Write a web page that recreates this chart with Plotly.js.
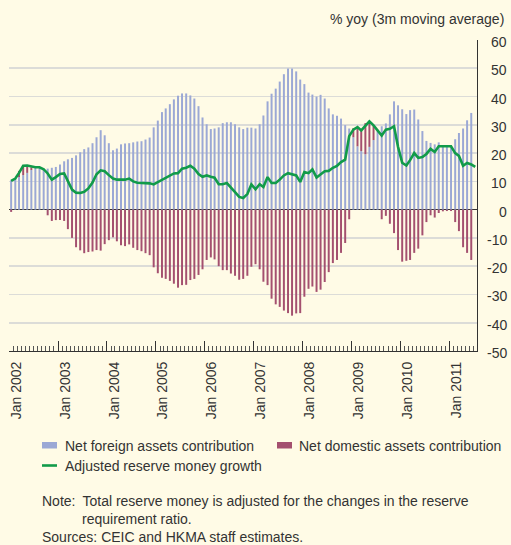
<!DOCTYPE html>
<html><head><meta charset="utf-8">
<script src="https://cdn.plot.ly/plotly-3.0.1.min.js"></script>
<style>html,body{margin:0;padding:0;background:#fffbe6;} #chart{width:511px;height:545px;}</style>
</head><body><div id="chart"></div>
<script>
// ---- data ----
const startYear = 2002;
const netForeign = [10.4, 11, 11.5, 12.2, 13, 14, 15.1, 14.8, 14.5, 14.5,
 14.8, 15.1, 16, 17.1, 17.8, 18.3, 19.2, 20.3, 21.4, 22,
 23.5, 25.6, 28.1, 26.3, 23.5, 21, 21.6, 23.1, 23.4, 23.5,
 23.8, 24.1, 24.2, 24.8, 25.5, 29.1, 31.5, 34.5, 35.8, 37.3,
 39, 40.3, 41.1, 41.1, 40.4, 39.3, 36.6, 32.6, 30.2, 28.5,
 28.7, 29.1, 30.6, 30.9, 30.9, 30.2, 29.1, 28.5, 29, 29,
 28.7, 30.2, 33.3, 38.3, 41, 42.8, 45.3, 47.9, 49.9, 49.9,
 48.9, 46, 44.4, 41.4, 40.7, 40, 40.6, 39.3, 35.8, 33.7,
 33.2, 32.2, 29.9, 28.7, 25.6, 22.4, 20.7, 19.6, 22.2, 24.6,
 28.3, 29.5, 30.5, 33.7, 38.3, 36.9, 35.5, 33.8, 35.2, 35.4,
 31.9, 27.8, 24.3, 23.6, 23.1, 23.8, 22.6, 22.5, 22.6, 24.9,
 27.1, 28.7, 31.6, 34.2];
const netDomestic = [-0.8, 0, 2.2, 3.3, 2.2, 1, 0, 0, 0, -2,
 -4, -3.7, -3.7, -4, -6.9, -10, -13.3, -14.4, -15.4, -15,
 -14.8, -14.3, -14.5, -12.2, -10.8, -9.8, -11.2, -12.6, -12.9, -12.3,
 -13.5, -14.3, -14.7, -15.4, -16.1, -20.4, -22.5, -24.1, -24.5, -25.2,
 -26.2, -27.6, -26.7, -26.6, -24.9, -24.5, -23.1, -21.1, -17.8, -16.9,
 -17.6, -20, -21.4, -21.4, -22.6, -23.4, -24.8, -24.5, -23.4, -20.2,
 -19.3, -21.1, -25.5, -26.7, -31.5, -33.5, -34.4, -35.7, -36.6, -37.5,
 -36.7, -36.6, -30.8, -28, -27.2, -29.1, -28.3, -25.6, -22.1, -18.9,
 -17.8, -15.3, -11.8, -3.4, 3.2, 6.5, 7.5, 11, 8.8, 5,
 0, -3.4, -2.2, -5, -8.3, -14.3, -18.4, -18.1, -17.8, -15.3,
 -13.8, -9.1, -4.4, -2, -2.8, -1.2, -0.6, -0.5, -0.5, -4.4,
 -7.6, -13.3, -15.3, -17.8];
const reserveGrowth = [10.2, 11, 13, 15.5, 15.6, 15.2, 15, 15, 14.3, 12.8,
 10.6, 11.5, 12.6, 12.8, 10.3, 7.1, 6, 5.9, 6.3, 7.5,
 9.6, 12.5, 13.9, 13.6, 12.2, 11, 10.6, 10.6, 10.6, 11,
 10, 9.5, 9.4, 9.4, 9.3, 8.9, 9.7, 10.5, 11.4, 12.3,
 12.8, 12.9, 14.5, 14.8, 15.5, 14.5, 12.6, 11.6, 12.1, 11.6,
 11.3, 9, 9, 9.4, 8, 6.2, 4.5, 4.1, 5.5, 8.9,
 7.2, 9, 8, 11.5, 9.4, 9.4, 10.6, 12.1, 12.9, 12.5,
 12.1, 9.8, 13.3, 12.9, 14.2, 11.4, 12.5, 13.6, 13.7, 14.8,
 15.5, 16.8, 17.7, 26, 28.3, 29.2, 28, 29.7, 31.2, 29.8,
 28, 26.2, 28.3, 28.6, 29.5, 22.2, 16.6, 15.6, 17.5, 20,
 18.3, 18.6, 19.7, 21.5, 20.4, 22.4, 22.4, 22.4, 22.4, 20,
 19, 15.5, 16.5, 16, 15.1];
const yTickVals = [60, 50, 40, 30, 20, 10, 0, -10, -20, -30, -40, -50];
const yTickText = ['60', '50', '40', '30', '20', '10', '0', '-10', '-20', '-30', '-40', '-50'];
const seriesNames = ['Net foreign assets contribution', 'Net domestic assets contribution', 'Adjusted reserve money growth'];
const unitTitle = '% yoy (3m moving average)';
const noteLine1 = 'Note:\u2002Total reserve money is adjusted for the changes in the reserve';
const noteLine2 = 'requirement ratio.';
const sourceLine = 'Sources: CEIC and HKMA staff estimates.';

// month dates (mid-month)
function monthDate(i) {
  const y = startYear + Math.floor(i / 12);
  const m = (i % 12) + 1;
  return y + '-' + String(m).padStart(2, '0') + '-15';
}
const barDates = netForeign.map((_, i) => monthDate(i));
const lineDates = reserveGrowth.map((_, i) => monthDate(i));

// ---- styling ----
const C_BLUE = '#9ba8d5', C_MAROON = '#a4506f', C_GREEN = '#119b49', C_TEXT = '#333333';
const FONT = 'Liberation Sans, Arial, Helvetica, sans-serif';
const L = 9, R = 477, T = 40, B = 351;
const W = R - L, H = B - T;
const px = x => (x - L) / W;
const py = y => (B - y) / H;

const traces = [
  {type: 'bar', x: barDates, y: netForeign, name: seriesNames[0], marker: {color: C_BLUE, line: {width: 0}}},
  {type: 'bar', x: barDates, y: netDomestic, name: seriesNames[1], marker: {color: C_MAROON, line: {width: 0}}},
  {type: 'scatter', mode: 'lines', x: lineDates, y: reserveGrowth, name: seriesNames[2], line: {color: C_GREEN, width: 2.6}}
];

const annotations = [];
yTickVals.forEach((v, i) => {
  annotations.push({xref: 'paper', yref: 'y', x: px(509), y: v, text: yTickText[i], showarrow: false,
    xanchor: 'right', yanchor: 'middle', yshift: -2, font: {family: FONT, size: 14, color: C_TEXT}});
});
annotations.push({xref: 'paper', yref: 'paper', x: px(506), y: py(19), text: unitTitle, showarrow: false,
  xanchor: 'right', yanchor: 'middle', font: {family: FONT, size: 14, color: C_TEXT}});
// legend texts
annotations.push({xref: 'paper', yref: 'paper', x: px(63), y: py(446), text: seriesNames[0], showarrow: false,
  xanchor: 'left', yanchor: 'middle', font: {family: FONT, size: 14, color: C_TEXT}});
annotations.push({xref: 'paper', yref: 'paper', x: px(297), y: py(446), text: seriesNames[1], showarrow: false,
  xanchor: 'left', yanchor: 'middle', font: {family: FONT, size: 14, color: C_TEXT}});
annotations.push({xref: 'paper', yref: 'paper', x: px(63), y: py(466), text: seriesNames[2], showarrow: false,
  xanchor: 'left', yanchor: 'middle', font: {family: FONT, size: 14, color: C_TEXT}});
// notes
annotations.push({xref: 'paper', yref: 'paper', x: px(40), y: py(500.5), text: noteLine1, showarrow: false,
  xanchor: 'left', yanchor: 'middle', font: {family: FONT, size: 14, color: C_TEXT}});
annotations.push({xref: 'paper', yref: 'paper', x: px(80), y: py(518.5), text: noteLine2, showarrow: false,
  xanchor: 'left', yanchor: 'middle', font: {family: FONT, size: 14, color: C_TEXT}});
annotations.push({xref: 'paper', yref: 'paper', x: px(40), y: py(536.5), text: sourceLine, showarrow: false,
  xanchor: 'left', yanchor: 'middle', font: {family: FONT, size: 14, color: C_TEXT}});

const shapes = [
  {type: 'rect', xref: 'paper', yref: 'paper', x0: px(42), x1: px(57), y0: py(442), y1: py(448.5), fillcolor: C_BLUE, line: {width: 0}},
  {type: 'rect', xref: 'paper', yref: 'paper', x0: px(277), x1: px(292), y0: py(442), y1: py(448.5), fillcolor: C_MAROON, line: {width: 0}},
  {type: 'line', xref: 'paper', yref: 'paper', x0: px(42), x1: px(57), y0: py(465.5), y1: py(465.5), line: {color: C_GREEN, width: 2.6}}
];

const layout = {
  width: 511, height: 545,
  margin: {l: L, r: 511 - R, t: T, b: 545 - B, pad: 0},
  paper_bgcolor: '#fffbe6', plot_bgcolor: '#fffbe6',
  barmode: 'relative', bargap: 0.47,
  showlegend: false,
  font: {family: FONT, size: 14, color: C_TEXT},
  xaxis: {
    type: 'date', range: ['2001-12-30', '2011-07-28'],
    tick0: '2002-01-01', dtick: 'M12', tickformat: '%b %Y', tickangle: -90,
    ticks: 'inside', ticklen: 10, tickwidth: 1, tickcolor: '#333',
    showline: true, linecolor: '#333', linewidth: 1,
    showgrid: false, zeroline: false,
    minor: {tick0: '2002-01-01', dtick: 'M1', ticks: 'inside', ticklen: 5, tickwidth: 1, tickcolor: '#555', showgrid: false},
    ticklabelshift: 7, ticklabelstandoff: 4,
    tickfont: {family: FONT, size: 14, color: C_TEXT}
  },
  yaxis: {
    range: [-50, 60], side: 'right', tickvals: yTickVals, showticklabels: false, ticks: '',
    showgrid: true, gridcolor: '#dcdcd8', gridwidth: 1.6,
    zeroline: true, zerolinecolor: '#333', zerolinewidth: 1,
    showline: true, linecolor: '#333', linewidth: 1.2
  },
  annotations: annotations,
  shapes: shapes
};

Plotly.newPlot('chart', traces, layout, {staticPlot: true, displayModeBar: false});
</script>
</body></html>
